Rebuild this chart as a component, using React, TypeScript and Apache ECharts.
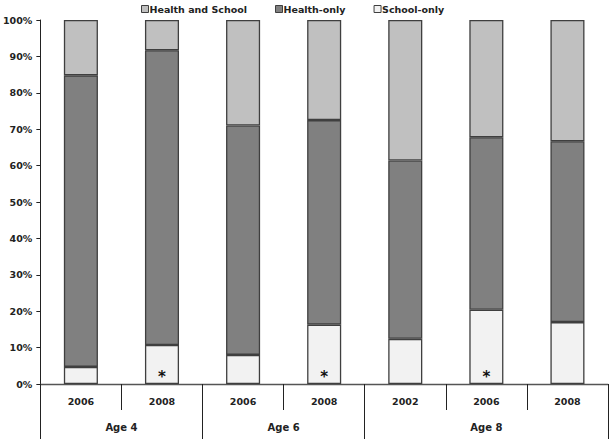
import React, { useEffect, useRef } from "react";
import * as echarts from "echarts";

const years = ["2006", "2008", "2006", "2008", "2002", "2006", "2008"];
const groupLabels = ["Age 4", "Age 6", "Age 8"];
const groupSpans = [2, 2, 3];
const schoolOnly = [4.7, 10.7, 8.0, 16.3, 12.4, 20.4, 17.0];
const healthOnly = [80.1, 81.0, 63.0, 56.2, 49.0, 47.4, 49.7];
const healthAndSchool = [15.2, 8.3, 29.0, 27.5, 38.6, 32.2, 33.3];
const significant = [false, true, false, true, false, true, false];
const yTicks = [0, 10, 20, 30, 40, 50, 60, 70, 80, 90, 100];

const FONT = "DejaVu Sans";

export default function App() {
  const ref = useRef<HTMLDivElement>(null);
  useEffect(() => {
    if (!ref.current) return;
    const chart = echarts.init(ref.current, undefined, { renderer: "svg" });

    const groupBounds: number[] = [0];
    const groupCenters: number[] = [];
    let acc = 0;
    groupSpans.forEach((s) => {
      groupCenters.push(acc + s / 2);
      acc += s;
      groupBounds.push(acc);
    });

    const border = { borderColor: "#3f3f3f", borderWidth: 1.3 };

    chart.setOption({
      animation: false,
      backgroundColor: "#ffffff",
      textStyle: { fontFamily: FONT },
      legend: {
        data: ["Health and School", "Health-only", "School-only"],
        left: 136,
        top: -1,
        icon: "rect",
        itemWidth: 7,
        itemHeight: 7,
        itemGap: 28,
        textStyle: { fontFamily: FONT, fontSize: 9.5, fontWeight: "bold", color: "#222", padding: [0, 0, 0, -4] },
        itemStyle: { borderColor: "#3f3f3f", borderWidth: 1 },
      },
      grid: { left: 38, right: 1, top: 20, bottom: 55, containLabel: false },
      xAxis: [
        {
          type: "category",
          data: years,
          position: "bottom",
          boundaryGap: true,
          axisLine: { show: true, lineStyle: { color: "#555", width: 1.3 } },
          axisTick: { show: true, length: 26, lineStyle: { color: "#222", width: 1 } },
          axisLabel: { fontFamily: FONT, fontSize: 9.5, fontWeight: "bold", color: "#222", margin: 12 },
        },
        {
          type: "value",
          min: 0,
          max: groupBounds[groupBounds.length - 1],
          position: "bottom",
          splitLine: { show: false },
          axisLine: { show: false },
          axisTick: { show: true, length: 56, customValues: groupBounds, lineStyle: { color: "#222", width: 1 } },
          axisLabel: {
            customValues: groupCenters,
            fontFamily: FONT,
            fontSize: 10,
            fontWeight: "bold",
            color: "#222",
            margin: 38,
            formatter: (v: number) => {
              const i = groupCenters.findIndex((c) => Math.abs(c - v) < 1e-6);
              return i >= 0 ? groupLabels[i] : "";
            },
          },
        },
      ],
      yAxis: {
        type: "value",
        min: 0,
        max: 100,
        interval: 10,
        splitLine: { show: false },
        axisLine: { show: true, lineStyle: { color: "#222", width: 1 } },
        axisTick: { show: true, length: 4, lineStyle: { color: "#222" } },
        axisLabel: {
          fontFamily: FONT,
          fontSize: 9.5,
          fontWeight: "bold",
          color: "#222",
          margin: 8,
          formatter: (v: number) => (yTicks.includes(v) ? `${v}%` : ""),
        },
      },
      series: [
        {
          name: "School-only",
          type: "bar",
          stack: "total",
          barWidth: "42%",
          itemStyle: { color: "#f2f2f2", ...border },
          data: schoolOnly.map((v, i) => ({
            value: v,
            label: {
              show: significant[i],
              position: "insideBottom",
              distance: 0,
              formatter: "*",
              fontFamily: FONT,
              fontSize: 15,
              fontWeight: "bold",
              color: "#111",
            },
          })),
        },
        {
          name: "Health-only",
          type: "bar",
          stack: "total",
          itemStyle: { color: "#808080", ...border },
          data: healthOnly,
        },
        {
          name: "Health and School",
          type: "bar",
          stack: "total",
          itemStyle: { color: "#c0c0c0", ...border },
          data: healthAndSchool,
        },
      ],
    });
    return () => chart.dispose();
  }, []);

  return (
    <div
      ref={ref}
      style={{ position: "fixed", left: 0, top: 0, width: 609, height: 439, background: "#fff" }}
    />
  );
}
